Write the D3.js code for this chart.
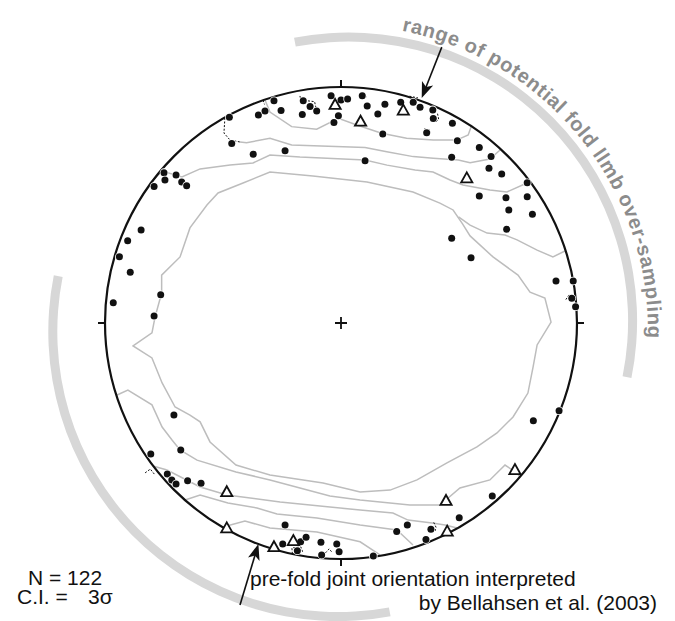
<!DOCTYPE html>
<html><head><meta charset="utf-8">
<script src="https://cdn.jsdelivr.net/npm/d3@7"></script>
<style>body{margin:0;background:#fff}svg{display:block}</style>
</head><body>
<svg id="chart" width="675" height="621"></svg>
<script>
// Joint poles, lower-hemisphere net; coordinates in percent of net radius (x east, y north)
const poles = [
  [-47.3,87.2],[-35.0,88.1],[-32.2,89.8],[-28.4,94.2],[-25.4,90.0],[-16.0,94.2],[-16.4,88.4],
  [-13.1,91.7],[-10.3,89.8],[-4.2,96.3],[0,94.5],[2.8,94.9],[9.0,96.3],[11.1,91.9],[-1.1,87.8],
  [-3.0,85.0],[15.6,88.6],[18.6,92.7],[17.7,80.1],[25.3,93.5],[30.6,93.5],[33.5,91.4],[38.9,90.3],
  [39.1,86.7],[47.2,84.6],[36.3,80.6],[49.3,77.2],[58.6,74.4],[-46.3,76.1],[-37.2,71.5],[-23.7,73.0],
  [10.2,68.8],[46.9,70.2],[58.6,53.8],[63.6,70.5],[62.7,65.6],[68.1,63.1],[78.9,59.4],[69.9,53.1],
  [78.9,53.5],[71.1,47.9],[81.1,46.1],[70.2,39.7],[46.9,35.9],[55.1,27.7],[91.1,17.8],[98.4,17.8],
  [97.8,10.5],[99.4,6.9],[-75.0,63.7],[-69.9,62.7],[-74.6,60.6],[-67.5,59.7],[-65.4,58.2],[-79.2,57.8],
  [-84.7,39.4],[-90.4,34.9],[-93.9,28.1],[-89.3,21.5],[-96.5,8.6],[-76.4,12.0],[-79.2,3.0],
  [-70.8,-39.0],[-67.9,-53.8],[-80.6,-55.5],[-73.6,-64.0],[-71.7,-66.5],[-69.9,-68.2],[-65.0,-66.8],
  [-59.3,-67.9],[-23.7,-85.6],[-24.7,-93.6],[-17.1,-92.7],[-14.8,-90.8],[-18.5,-96.5],[-8.5,-92.9],
  [-1.8,-93.6],[-8.2,-98.3],[-0.8,-96.9],[13.7,-98.7],[81.5,-41.4],[64.1,-73.3],[50.1,-82.5],
  [28.1,-85.6],[23.6,-88.4],[38.1,-87.4],[36.0,-91.7],[92.4,-37.2]
];
// Second joint set (open triangles)
const trianglePoles = [
  [-2.5,92.4],[8.3,85.3],[26.4,90.0],[53.3,61.3],[-48.4,-71.7],[-48.4,-87.0],[-28.4,-95.0],
  [-20.2,-92.4],[73.7,-62.3],[44.5,-75.4],[45.0,-88.4]
];
// Density contours (grey)
const contourInner = [
  [-88.1,-9.7],[-80.1,-4.2],[-78.8,2.5],[-76.0,12.7],[-76.0,20.3],[-68.2,28.0],[-64.0,40.3],
  [-56.8,50.0],[-52.1,55.1],[-41.5,59.3],[-30.1,64.0],[-11.9,62.3],[11.0,59.7],[30.5,55.5],
  [41.9,50.8],[47.5,47.9],[51.5,42.0],[54.7,36.9],[64.4,28.0],[75.0,20.3],[80.1,13.1],[86.4,10.6],[89.0,0.4],
  [83.1,-9.3],[81.4,-18.6],[79.2,-29.7],[72.9,-39.8],[66.1,-46.6],[57.6,-52.5],[44.9,-59.3],
  [32.2,-66.5],[20.8,-70.8],[8.1,-71.6],[-7.6,-67.8],[-30.1,-64.4],[-44.5,-60.2],[-55.5,-50.4],
  [-59.7,-41.9],[-64.0,-39.0],[-70.3,-35.6],[-75.8,-25.4],[-80.1,-14.8]
];
const contourLines = [
  [[-32.2,94.5],[-30.1,89.4],[-20.9,83.2],[-10.3,82.1],[-1.1,86.7],[6.7,83.9],[17.2,80.4],[27.8,78.3],
   [39.1,77.5],[49.0,77.5],[53.9,79.7],[55.4,83.9]],
  [[-42.8,76.7],[-40.0,76.4],[-30.1,78.3],[-20.9,75.4],[10.2,74.4],[19.4,72.6],[30.6,70.5],[39.1,69.8],
   [49.7,69.1],[54.7,67.9],[63.1,69.5],[67.4,73.3]],
  [[-80.9,59.3],[-75.8,64.4],[-67.4,61.9],[-59.7,65.3],[-47.0,66.9],[-37.3,67.8],[-30.1,71.2],
   [-17.4,70.3],[10.2,69.1],[19.5,66.9],[31.4,64.8],[39.0,64.0],[46.2,60.6],[51.7,58.5],[63.1,56.4],
   [70.3,55.5],[78.8,59.3]],
  [[49.8,45.0],[54.7,41.5],[61.9,38.1],[69.5,37.3],[74.6,35.2],[83.1,30.9],[89.8,28.0],[94.9,30.5]],
  [[-94.9,-30.5],[-90.3,-28.4],[-80.1,-34.7],[-75.8,-44.1],[-71.6,-49.6],[-68.2,-53.8],[-61.0,-58.1],
   [-44.5,-63.1],[-30.1,-66.5],[-4.7,-73.3],[8.1,-75.0],[29.2,-77.1],[41.9,-77.1],[50.4,-69.9],
   [63.1,-66.5],[69.5,-60.2],[74.6,-63.6],[75.8,-65.3]],
  [[-79.7,-60.6],[-73.7,-62.3],[-59.7,-69.5],[-48.3,-72.9],[-25.8,-75.8],[-4.7,-78.0],[8.1,-79.2],
   [22.0,-80.5],[28.4,-83.5],[38.6,-84.7],[44.1,-85.6],[49.2,-86.9]],
  [[-66.1,-75.0],[-59.7,-72.9],[-47.9,-76.3],[-35.6,-78.4],[-27.1,-80.9],[-10.2,-82.6],[8.1,-85.6],
   [23.7,-87.7],[30.5,-94.1]],
  [[-50.0,-86.4],[-40.7,-83.9],[-30.1,-86.9],[-10.2,-88.6],[8.1,-92.7],[16.5,-98.3]]
];
// Highest contour level near the primitive (dashed black)
const contourDashed = [
  [[-49.2,86.9],[-49.6,80.5],[-47.0,77.5],[-42.8,76.7]],
  [[-33.0,94.4],[-32.4,92.6]],
  [[-17.4,96.2],[-16.6,93.0]],
  [[-15.5,94.3],[-11.2,93.8],[-10.5,90.8]],
  [[9.8,97.6],[10.6,95.7]],
  [[29.0,96.1],[32.6,95.4]],
  [[40.9,88.7],[41.4,86.3],[39.9,85.0]],
  [[35.2,82.2],[37.6,81.8],[37.9,79.8]],
  [[-83.0,-63.5],[-80.8,-61.9],[-78.8,-64.4]],
  [[-20.6,-97.8],[-20.8,-95.3],[-17.0,-94.9],[-16.1,-97.4]],
  [[-6.6,-97.4],[-5.0,-95.7],[-3.6,-97.4]],
  [[39.3,-84.5],[40.3,-86.6],[39.8,-88.3]],
  [[96.6,11.9],[95.2,9.8]]
];
const summaryLines = ["N = 122", "C.I. =", "3\u03c3"];
const arcLabel = "range of potential fold llmb over-sampling";
const noteLines = ["pre-fold joint orientation interpreted", "by Bellahsen et al. (2003)"];

const cx = 341, cy = 323, R = 236;
const x = d3.scaleLinear().domain([-100, 100]).range([cx - R, cx + R]);
const y = d3.scaleLinear().domain([-100, 100]).range([cy + R, cy - R]);
const svg = d3.select("#chart");
const font = "'Liberation Sans', Arial, Helvetica, sans-serif";
const line = d3.line().x(d => x(d[0])).y(d => y(d[1]));
const rad = Math.PI / 180;

// light grey brackets around the net
const bracket = d3.arc();
svg.append("path")
  .attr("transform", "translate(348.6,321)")
  .attr("d", bracket({innerRadius: 279.5, outerRadius: 288.5,
    startAngle: -10.9 * rad, endAngle: 101.4 * rad}))
  .attr("fill", "#d7d7d7");
svg.append("path")
  .attr("transform", "translate(337.8,331.6)")
  .attr("d", bracket({innerRadius: 280.5, outerRadius: 289.5,
    startAngle: 169.5 * rad, endAngle: 281.2 * rad}))
  .attr("fill", "#d7d7d7");

// curved label
const tr = 305, tcx = 343, tcy = 330;
const a0 = 0, a1 = 125 * rad;
svg.append("path").attr("id", "labelArc")
  .attr("d", `M${tcx + tr * Math.sin(a0)},${tcy - tr * Math.cos(a0)} A${tr},${tr} 0 0 1 ${tcx + tr * Math.sin(a1)},${tcy - tr * Math.cos(a1)}`)
  .attr("fill", "none");
svg.append("text")
  .attr("font-family", font).attr("font-weight", "bold").attr("font-size", 20)
  .attr("fill", "#8c8c8c")
  .append("textPath").attr("href", "#labelArc")
  .attr("startOffset", tr * 11.1 * rad)
  .attr("textLength", 428).attr("lengthAdjust", "spacing")
  .text(arcLabel);

// contours
const g = svg.append("g");
g.append("path").datum(contourInner).attr("d", d => line(d) + "Z")
  .attr("fill", "none").attr("stroke", "#bdbdbd").attr("stroke-width", 1.5);
g.selectAll("path.c").data(contourLines).join("path").attr("class", "c")
  .attr("d", line).attr("fill", "none").attr("stroke", "#bdbdbd").attr("stroke-width", 1.5);
g.selectAll("path.dc").data(contourDashed).join("path").attr("class", "dc")
  .attr("d", line).attr("fill", "none").attr("stroke", "#111").attr("stroke-width", 1)
  .attr("stroke-dasharray", "2,1.6");

// primitive circle, ticks and centre cross
svg.append("circle").attr("cx", x(0)).attr("cy", y(0)).attr("r", x(100) - x(0))
  .attr("fill", "none").attr("stroke", "#111").attr("stroke-width", 2.2);
const ticks = [[0, 100, 0, 1], [100, 0, 1, 0], [0, -100, 0, -1], [-100, 0, -1, 0]];
svg.selectAll("line.tick").data(ticks).join("line").attr("class", "tick")
  .attr("x1", d => x(d[0])).attr("y1", d => y(d[1]))
  .attr("x2", d => x(d[0]) + d[2] * 7).attr("y2", d => y(d[1]) - d[3] * 7)
  .attr("stroke", "#111").attr("stroke-width", 2);
svg.append("path")
  .attr("d", `M${x(0) - 6},${y(0)}H${x(0) + 6}M${x(0)},${y(0) - 6}V${y(0) + 6}`)
  .attr("stroke", "#111").attr("stroke-width", 1.8);

// poles
svg.selectAll("circle.pole").data(poles).join("circle").attr("class", "pole")
  .attr("cx", d => x(d[0])).attr("cy", d => y(d[1])).attr("r", 3.5)
  .attr("fill", "#111").attr("stroke", "#fff").attr("stroke-width", 1.6)
  .attr("paint-order", "stroke");
svg.selectAll("path.tri").data(trianglePoles).join("path").attr("class", "tri")
  .attr("transform", d => `translate(${x(d[0])},${y(d[1])})`)
  .attr("d", "M0,-6L5.6,4L-5.6,4Z")
  .attr("fill", "#fff").attr("stroke", "#111").attr("stroke-width", 1.8)
  .attr("stroke-linejoin", "miter");

// arrows
function arrow(tail, tip) {
  const x0 = x(tail[0]), y0 = y(tail[1]), x1 = x(tip[0]), y1 = y(tip[1]);
  const ang = Math.atan2(y1 - y0, x1 - x0);
  svg.append("line").attr("x1", x0).attr("y1", y0)
    .attr("x2", x1 - 10 * Math.cos(ang)).attr("y2", y1 - 10 * Math.sin(ang))
    .attr("stroke", "#111").attr("stroke-width", 1.6);
  svg.append("path")
    .attr("transform", `translate(${x1},${y1}) rotate(${ang / rad})`)
    .attr("d", "M0,0L-16,-6L-12,0L-16,6Z").attr("fill", "#111");
}
arrow([42.7, 116.9], [34.2, 95.3]);
arrow([-42.8, -119.5], [-35.0, -93.6]);

// text
const t = svg.append("g").attr("font-family", font).attr("font-size", 21).attr("fill", "#111");
t.append("text").attr("x", 65).attr("y", 585).attr("text-anchor", "middle").text(summaryLines[0]);
t.append("text").attr("x", 17).attr("y", 604).text(summaryLines[1]);
t.append("text").attr("x", 88).attr("y", 604).text(summaryLines[2]);
t.append("text").attr("x", 250).attr("y", 586).text(noteLines[0]);
t.append("text").attr("x", 657).attr("y", 610).attr("text-anchor", "end").text(noteLines[1]);
</script>
</body></html>
